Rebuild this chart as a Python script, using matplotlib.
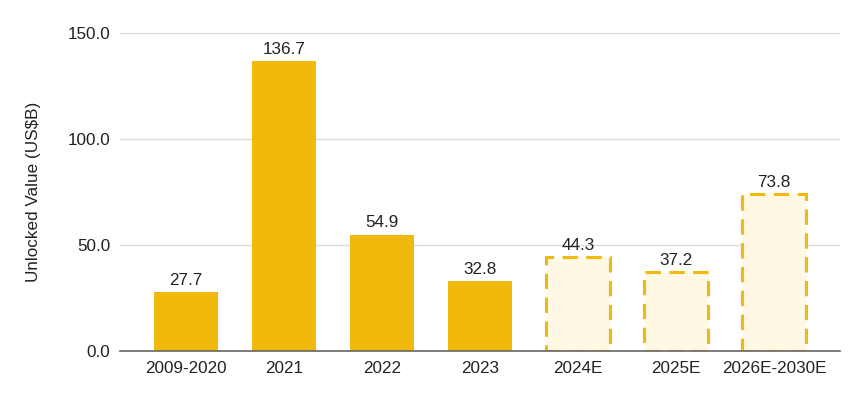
import matplotlib
matplotlib.use("Agg")
import matplotlib.pyplot as plt

categories = ["2009-2020", "2021", "2022", "2023", "2024E", "2025E", "2026E-2030E"]
values = [27.7, 136.7, 54.9, 32.8, 44.3, 37.2, 73.8]
estimated = [False, False, False, False, True, True, True]
yticks = [0, 50, 100, 150]

plt.rcParams['font.family'] = ['Liberation Sans', 'DejaVu Sans']

fig = plt.figure(figsize=(8.65, 3.97), dpi=100)
ax = fig.add_axes([0.139, 0.116, 0.832, 0.801])

solid = "#F0B90B"
light = "#FEF8E5"
txt = '#222222'
fs = 12.3
x = list(range(len(categories)))
for i, (v, e) in enumerate(zip(values, estimated)):
    if e:
        ax.bar(i, v, width=0.65, color=light, edgecolor=solid, linewidth=2.2,
               linestyle=(0, (5, 2.8)), zorder=3)
    else:
        ax.bar(i, v, width=0.65, color=solid, edgecolor='none', zorder=3)
    ax.text(i, v + 2, f"{v:.1f}", ha='center', va='bottom', fontsize=fs, color=txt)

ax.set_xlim(-0.67, 6.67)
ax.set_ylim(0, 150)
ax.set_yticks(yticks)
ax.set_yticklabels([f"{t:.1f}" for t in yticks], fontsize=fs, color=txt)
ax.set_xticks(x)
ax.set_xticklabels(categories, fontsize=fs, color=txt)
ax.tick_params(length=0, pad=7)
ax.tick_params(axis='y', pad=7)
ax.grid(axis='y', color='#dcdcdc', linewidth=1, zorder=0)
ax.set_axisbelow(True)
for s in ['top', 'right', 'left']:
    ax.spines[s].set_visible(False)
ax.spines['bottom'].set_color('#666666')
ax.spines['bottom'].set_linewidth(1.2)
ax.spines['bottom'].set_zorder(4)
ax.set_ylabel("Unlocked Value (US\\$B)", fontsize=fs, color=txt, labelpad=19)

fig.savefig("out.png", dpi=100, facecolor='white')
